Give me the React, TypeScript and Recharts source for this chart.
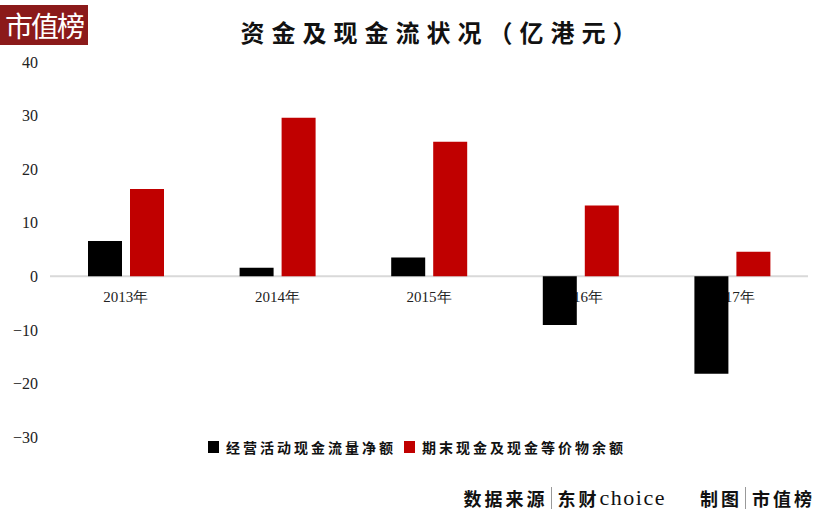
import { BarChart, Bar, XAxis, YAxis, ReferenceLine } from "recharts";

const years = ["2013年", "2014年", "2015年", "2016年", "2017年"];
const operatingCash = [6.6, 1.6, 3.5, -9.1, -18.2];
const endingCash = [16.3, 29.6, 25.1, 13.2, 4.6];
const yTicks = [-30, -20, -10, 0, 10, 20, 30, 40];

const series = [
  { key: "op", name: "经营活动现金流量净额", color: "#000000" },
  { key: "end", name: "期末现金及现金等价物余额", color: "#C00000" },
];

const data = years.map((year, i) => ({
  year,
  op: operatingCash[i],
  end: endingCash[i],
}));

const W = 820;
const H = 516;
const margin = { top: 62, right: 12, bottom: 79, left: 0 };
const yAxisW = 50;
const xAxisH = 30;
const yMin = -30;
const yMax = 40;
const zeroY = margin.top + ((H - margin.top - margin.bottom) * yMax) / (yMax - yMin);

const serif = '"Liberation Serif", "Times New Roman", serif';
const cjk = '"Noto Sans CJK SC", sans-serif';

function YearTick(props: any) {
  const { x, payload } = props;
  return (
    <text x={x} y={zeroY + 26} textAnchor="middle" fontFamily={serif} fontSize={15} fill="#222">
      {payload.value}
    </text>
  );
}

const layer: React.CSSProperties = { position: "absolute", left: 0, top: 0 };

export default function App() {
  return (
    <div style={{ position: "relative", width: W, height: H, background: "#fff" }}>
      <style>{"body{margin:0}"}</style>
      <div
        style={{
          position: "absolute",
          left: 0,
          top: 5,
          width: 88,
          height: 40,
          background: "#8B1A1A",
          color: "#fff",
          fontFamily: cjk,
          fontSize: 28,
          lineHeight: "40px",
          textAlign: "center",
          letterSpacing: -2,
        }}
      >
        市值榜
      </div>
      <div
        style={{
          position: "absolute",
          left: 0,
          top: 14,
          width: W + 64,
          textAlign: "center",
          fontFamily: cjk,
          fontWeight: 700,
          fontSize: 24,
          letterSpacing: 7,
          color: "#111",
        }}
      >
        资金及现金流状况（亿港元）
      </div>

      {/* axes and year labels underneath */}
      <div style={layer}>
        <BarChart
          width={W}
          height={H}
          data={data}
          margin={{ ...margin, bottom: margin.bottom - xAxisH }}
          barSize={34}
          barGap={8}
        >
          <YAxis
            domain={[yMin, yMax]}
            ticks={yTicks}
            interval={0}
            axisLine={false}
            tickLine={false}
            width={yAxisW}
            tickMargin={6}
            tick={{ fontFamily: serif, fontSize: 16, fill: "#222" }}
            tickFormatter={(v: number) => String(v).replace("-", "\u2212")}
          />
          <XAxis dataKey="year" height={xAxisH} axisLine={false} tickLine={false} tick={<YearTick />} />
          {series.map((s) => (
            <Bar key={s.key} dataKey={s.key} fill="transparent" isAnimationActive={false} />
          ))}
          <ReferenceLine y={0} stroke="#d9d9d9" strokeWidth={2} />
        </BarChart>
      </div>

      {/* bars drawn above the year labels, same scales */}
      <div style={layer}>
        <BarChart
          width={W}
          height={H}
          data={data}
          margin={{ ...margin, left: margin.left + yAxisW }}
          barSize={34}
          barGap={8}
        >
          <YAxis hide domain={[yMin, yMax]} ticks={yTicks} />
          <XAxis hide dataKey="year" />
          {series.map((s) => (
            <Bar key={s.key} dataKey={s.key} name={s.name} fill={s.color} isAnimationActive={false} />
          ))}
        </BarChart>
      </div>

      <div
        style={{
          position: "absolute",
          left: 0,
          top: 437,
          width: W,
          display: "flex",
          justifyContent: "center",
          gap: 8,
          fontFamily: cjk,
          fontWeight: 700,
          fontSize: 14,
          letterSpacing: 3,
          color: "#111",
          paddingLeft: 14,
          boxSizing: "border-box",
        }}
      >
        {series.map((s) => (
          <span key={s.key} style={{ display: "flex", alignItems: "center" }}>
            <span style={{ width: 11, height: 12, background: s.color, marginRight: 7 }} />
            {s.name}
          </span>
        ))}
      </div>

      <div
        style={{
          position: "absolute",
          right: 5,
          top: 485,
          display: "flex",
          alignItems: "center",
          fontFamily: cjk,
          fontWeight: 700,
          fontSize: 18,
          color: "#111",
          letterSpacing: 3,
        }}
      >
        <span>数据来源</span>
        <span style={{ width: 1, height: 22, background: "#999", margin: "0 6px 0 3px" }} />
        <span>东财</span>
        <span style={{ fontFamily: serif, fontWeight: 400, fontSize: 22, letterSpacing: 1.5 }}>choice</span>
        <span style={{ width: 34 }} />
        <span>制图</span>
        <span style={{ width: 1, height: 22, background: "#999", margin: "0 6px 0 3px" }} />
        <span>市值榜</span>
      </div>
    </div>
  );
}
